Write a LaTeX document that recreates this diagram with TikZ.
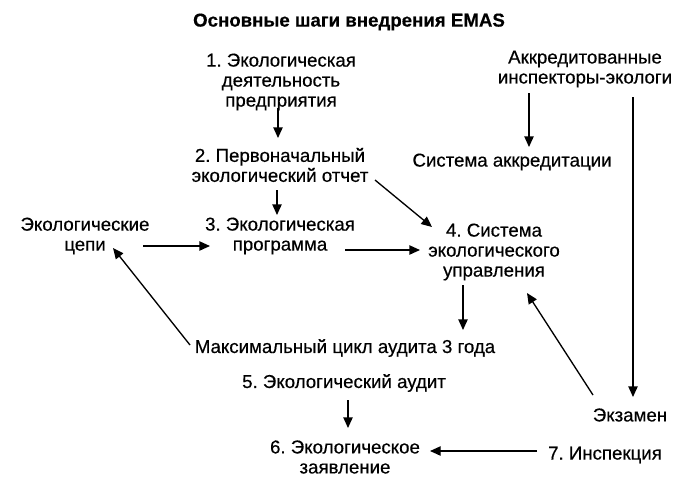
\documentclass[tikz,border=0pt]{standalone}
\usepackage{fontspec}
\setmainfont[FakeBold=0.4]{Liberation Sans}
\usetikzlibrary{calc,arrows.meta}
\begin{document}
\frenchspacing
\begin{tikzpicture}[x=0.75pt,y=-0.75pt,
    lbl/.style={align=center,inner sep=0pt,font=\fontsize{14}{15}\selectfont},
    arr/.style={-{Triangle[length=8pt,width=7pt]},line width=1pt}]
   \useasboundingbox (0,0) rectangle (694,487);
   % titel
   \node[lbl,font=\fontsize{14}{15}\selectfont\bfseries] (title) at (349,22) {Основные шаги внедрения EMAS};
   % stappen
   \node[lbl] (s1) at (281,82) {1. Экологическая\\деятельность\\предприятия};
   \node[lbl] (s2) at (280,165) {2. Первоначальный\\экологический отчет};
   \node[lbl] (s3) at (280,236) {3. Экологическая\\программа};
   \node[lbl] (chains) at (85,236) {Экологические\\цепи};
   \node[lbl] (s4) at (494,252) {4. Система\\экологического\\управления};
   \node[lbl] (insp) at (585,69) {Аккредитованные\\инспекторы-экологи};
   \node[lbl] (akk) at (512,162) {Система аккредитации};
   \node[lbl] (cycle) at (345,348) {Максимальный цикл аудита 3 года};
   \node[lbl] (s5) at (344,383) {5. Экологический аудит};
   \node[lbl] (s6) at (345,457) {6. Экологическое\\заявление};
   \node[lbl] (s7) at (605,455) {7. Инспекция};
   \node[lbl] (exam) at (630,415) {Экзамен};
   % pijlen
   \draw[arr] ($(s1)+(-3,26)$) -- ($(s2)+(-2,-27)$);
   \draw[arr] ($(s2)+(-3,25)$) -- ($(s3)+(-3,-21)$);
   \draw[arr] ($(chains)+(58,10)$) -- ($(s3)+(-70,10)$);
   \draw[arr] ($(s3)+(65,14)$) -- ($(s4)+(-74,-2)$);
   \draw[arr] ($(s2)+(95,15)$) -- ($(s4)+(-62,-25)$);
   \draw[arr] ($(insp)+(-56,24)$) -- ($(akk)+(17,-15)$);
   \draw[arr] ($(insp)+(48,28)$) -- ($(exam)+(3,-18)$);
   \draw[arr] ($(exam)+(-37,-20)$) -- ($(s4)+(33,41)$);
   \draw[arr] ($(s4)+(-31,33)$) -- ($(cycle)+(118,-18)$);
   \draw[arr] ($(cycle)+(-155,-3)$) -- ($(chains)+(28,12)$);
   \draw[arr] ($(s5)+(4,17)$) -- ($(s6)+(3,-29)$);
   \draw[arr] ($(s7)+(-68,-4)$) -- ($(s6)+(85,-6)$);
\end{tikzpicture}
\end{document}
